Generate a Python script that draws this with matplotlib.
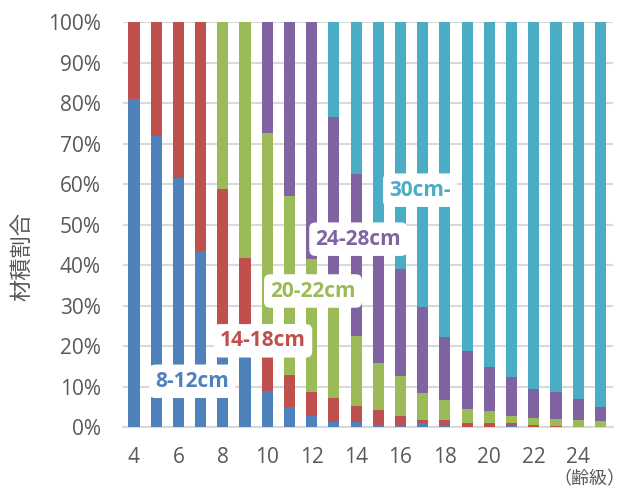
import numpy as np
import matplotlib.pyplot as plt

plt.rcParams['font.family'] = ['Open Sans', 'Noto Sans CJK JP', 'DejaVu Sans']

ages = list(range(4, 26))
# cumulative tops (%)
blue_top = [80.9, 71.9, 61.5, 43.5, 25.2, 17.0, 8.9, 4.9, 2.8, 1.3, 1.3,
            0.4, 0.3, 0.9, 0.2, 0.1, 0.1, 0.3, 0.1, 0.0, 0.0, 0.0]
red_top = [100, 100, 100, 100, 58.8, 41.7, 19.0, 12.8, 8.7, 7.2, 5.3,
           4.2, 2.8, 1.7, 1.7, 1.1, 1.1, 1.1, 0.6, 0.2, 0.1, 0.1]
green_top = [100, 100, 100, 100, 100, 100, 72.7, 57.0, 41.6, 33.0, 22.5,
             15.7, 12.7, 8.5, 6.7, 4.4, 4.0, 2.7, 2.3, 2.0, 1.7, 1.5]
purple_top = [100, 100, 100, 100, 100, 100, 100, 100, 100, 76.6, 62.5,
              46.0, 39.0, 29.6, 22.3, 18.8, 14.9, 12.4, 9.5, 8.7, 7.0, 5.0]
series_names = ['8-12cm', '14-18cm', '20-22cm', '24-28cm', '30cm-']
colors = ['#4F81BD', '#C0504D', '#9BBB59', '#8064A2', '#4BACC6']

tops = np.array([blue_top, red_top, green_top, purple_top, [100] * len(ages)], float)
shares = np.diff(np.vstack([np.zeros(len(ages)), tops]), axis=0)

fig = plt.figure(figsize=(6.27, 4.92), dpi=100)
ax = fig.add_axes([0.196, 0.132, 0.781, 0.823])

bottom = np.zeros(len(ages))
for vals, c in zip(shares, colors):
    ax.bar(ages, vals, bottom=bottom, width=0.5, color=c, edgecolor='none', zorder=3)
    bottom += vals

ax.set_xlim(3.5, 25.55)
ax.set_ylim(0, 100)
ax.set_yticks(np.arange(0, 101, 10))
ax.set_yticklabels(['{}%'.format(v) for v in range(0, 101, 10)])
ax.set_xticks(range(4, 25, 2))
ax.grid(axis='y', color='#D9D9D9', linewidth=1.5, zorder=0)
for s in ['left', 'right', 'top']:
    ax.spines[s].set_visible(False)
ax.spines['bottom'].set_color('#D9D9D9')
ax.spines['bottom'].set_linewidth(1.5)
ax.tick_params(axis='both', length=0, colors='#595959', labelsize=15)
ax.tick_params(axis='x', pad=14)
ax.tick_params(axis='y', pad=16)

fig.text(0.035, 0.478, '材積割合', fontsize=16, color='#595959', rotation=90,
         ha='center', va='center', family=['Noto Sans CJK JP', 'DejaVu Sans'])
fig.text(0.94, 0.026, '（齢級）', fontsize=13, color='#595959', ha='center',
         va='center', family=['Noto Sans CJK JP', 'DejaVu Sans'])

# series labels placed in the chart
label_pos = [(6.62, 11.3), (9.81, 21.3), (12.06, 33.6), (14.1, 46.4), (16.88, 58.5)]
for name, c, (x, y) in zip(series_names, colors, label_pos):
    ax.text(x, y, name, color=c, fontsize=15, fontweight='bold', ha='center',
            va='center', zorder=5,
            bbox=dict(boxstyle='round,pad=0.3', fc='white', ec='none'))

fig.savefig('out.png', dpi=100)
